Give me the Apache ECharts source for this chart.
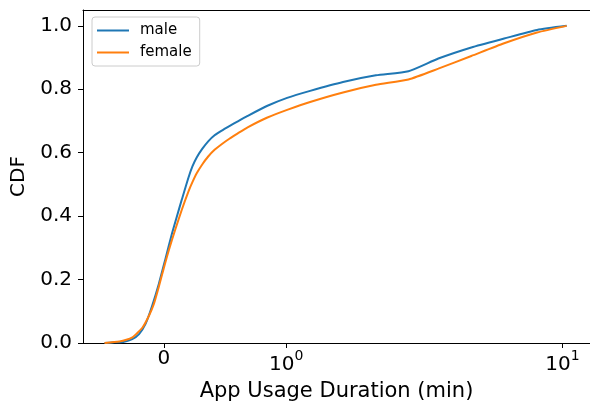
<!DOCTYPE html>
<html>
<head>
<meta charset="utf-8">
<script src="https://cdn.jsdelivr.net/npm/echarts@6/dist/echarts.min.js"></script>
<style>html,body{margin:0;padding:0;background:#fff}#c{width:590px;height:407px}</style>
</head>
<body>
<div id="c"></div>
<script>
// Data (x in minutes, y = CDF)
const maleX = [-0.484,-0.403,-0.323,-0.258,-0.202,-0.148,-0.097,-0.040,0.014,0.067,0.107,0.148,0.202,0.234,0.269,0.314,0.363,0.415,0.470,0.536,0.605,0.685,0.847,1.008,1.221,1.606,2.113,2.771,3.555,4.680,6.153,8.091,10.36];
const maleY = [0,0.002,0.004,0.012,0.028,0.061,0.115,0.187,0.266,0.345,0.399,0.453,0.522,0.557,0.585,0.612,0.636,0.655,0.669,0.684,0.699,0.716,0.748,0.773,0.795,0.823,0.844,0.857,0.897,0.932,0.960,0.987,1.0];
const femaleX = [-0.484,-0.363,-0.306,-0.256,-0.226,-0.175,-0.121,-0.081,-0.040,0,0.040,0.094,0.148,0.202,0.234,0.269,0.314,0.363,0.415,0.470,0.536,0.605,0.685,0.847,1.008,1.221,1.606,2.113,2.771,3.555,4.680,6.153,8.091,10.36];
const femaleY = [0,0.005,0.010,0.018,0.028,0.048,0.086,0.123,0.178,0.236,0.291,0.358,0.421,0.478,0.507,0.535,0.563,0.588,0.609,0.626,0.644,0.661,0.680,0.711,0.735,0.760,0.790,0.814,0.831,0.865,0.905,0.945,0.979,1.0];
const seriesNames = ['male', 'female'];
const xTickValues = [0, 1, 10];
const xTickLabels = ['0', '{b|10}{s|0}', '{b|10}{s|1}'];
const yTickValues = [0, 0.2, 0.4, 0.6, 0.8, 1.0];
const xLabel = 'App Usage Duration (min)';
const yLabel = 'CDF';

// symmetric-log style transform of the x axis
const LIN = 0.443;
function symlog(x) {
  const a = Math.abs(x);
  return a <= 1 ? x * LIN : Math.sign(x) * (LIN + Math.log10(a));
}
const FONT = 'DejaVu Sans';
const xTickPos = xTickValues.map(symlog);
const XMIN = symlog(-0.484) - 0.078, XMAX = (597 - 165) / 280;

const chart = echarts.init(document.getElementById('c'), null, {renderer: 'canvas'});
chart.setOption({
  animation: false,
  backgroundColor: '#fff',
  grid: {left: 83, top: 10, right: -7, bottom: 64, containLabel: false},
  legend: {
    left: 92, top: 17, orient: 'vertical',
    icon: 'rect',
    itemWidth: 32, itemHeight: 2, itemGap: 7,
    padding: [6, 8, 6, 5],
    backgroundColor: 'rgba(255,255,255,0.8)',
    borderColor: '#cccccc', borderWidth: 1, borderRadius: 3,
    textStyle: {fontFamily: FONT, fontSize: 15, lineHeight: 15, color: '#000', padding: [0, 0, 0, 6]},
    data: seriesNames
  },
  xAxis: [{
    type: 'value', min: XMIN, max: XMAX,
    position: 'bottom',
    name: xLabel, nameLocation: 'middle', nameGap: 38,
    nameTextStyle: {fontFamily: FONT, fontSize: 21, color: '#000'},
    axisLine: {show: true, onZero: false, lineStyle: {color: '#000', width: 1}},
    axisTick: {show: true, length: 5, customValues: xTickPos, lineStyle: {color: '#000', width: 1}},
    axisLabel: {
      show: true, margin: 6, customValues: xTickPos, color: '#000',
      fontFamily: FONT, fontSize: 20,
      formatter: function (v) {
        let best = 0, d = Infinity;
        xTickPos.forEach((p, i) => { if (Math.abs(p - v) < d) { d = Math.abs(p - v); best = i; } });
        return xTickLabels[best];
      },
      rich: {
        b: {fontFamily: FONT, fontSize: 20, color: '#000', verticalAlign: 'bottom', lineHeight: 26},
        s: {fontFamily: FONT, fontSize: 14, color: '#000', verticalAlign: 'top', lineHeight: 26}
      }
    },
    splitLine: {show: false}
  }, {
    type: 'value', min: XMIN, max: XMAX,
    position: 'top',
    axisLine: {show: true, onZero: false, lineStyle: {color: '#000', width: 1}},
    axisTick: {show: false}, axisLabel: {show: false}, splitLine: {show: false}
  }],
  yAxis: {
    type: 'value', min: 0, max: 1.05,
    name: yLabel, nameLocation: 'middle', nameGap: 50,
    nameTextStyle: {fontFamily: FONT, fontSize: 20, color: '#000'},
    axisLine: {show: true, onZero: false, lineStyle: {color: '#000', width: 1}},
    axisTick: {show: true, length: 5, customValues: yTickValues, lineStyle: {color: '#000', width: 1}},
    axisLabel: {
      show: true, margin: 11, customValues: yTickValues, color: '#000',
      fontFamily: FONT, fontSize: 20,
      formatter: v => v.toFixed(1)
    },
    splitLine: {show: false}
  },
  series: [{
    name: seriesNames[0], type: 'line', symbol: 'none', showSymbol: false,
    smooth: 0.2,
    data: maleX.map((x, i) => [symlog(x), maleY[i]]),
    lineStyle: {color: '#1f77b4', width: 2},
    itemStyle: {color: '#1f77b4'}
  }, {
    name: seriesNames[1], type: 'line', symbol: 'none', showSymbol: false,
    smooth: 0.2,
    data: femaleX.map((x, i) => [symlog(x), femaleY[i]]),
    lineStyle: {color: '#ff7f0e', width: 2},
    itemStyle: {color: '#ff7f0e'}
  }]
});
</script>
</body>
</html>
